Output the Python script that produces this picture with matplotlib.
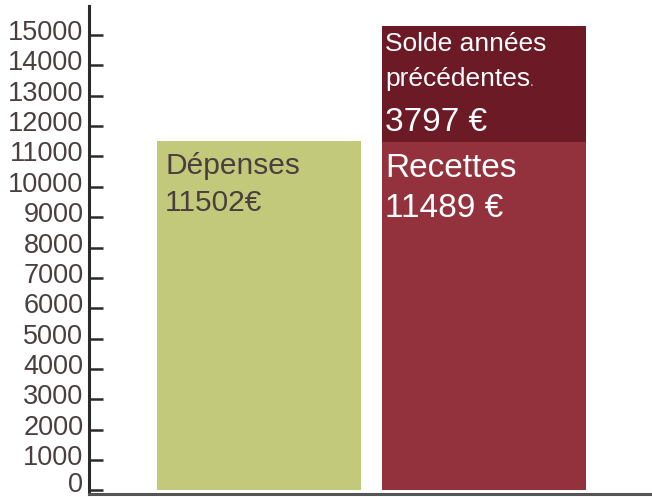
import matplotlib.pyplot as plt
from matplotlib.transforms import ScaledTranslation

plt.rcParams["font.family"] = ["Liberation Sans", "DejaVu Sans"]

# données du budget
depenses = 11502
recettes = 11489
solde = 3797
y_ticks = list(range(0, 16000, 1000))

GREEN = "#c3c97a"
RED = "#93323c"
DARK_RED = "#6b1a26"
TEXT = "#4a3f3f"


def main():
    fig = plt.figure(figsize=(6.52, 4.97), dpi=100)
    ax = fig.add_axes([89 / 652, 3 / 497, 1 - 89 / 652, 488 / 497])

    width = 0.907
    ax.bar(0, depenses, width=width, color=GREEN)
    ax.bar(1, recettes, width=width, color=RED)
    ax.bar(1, solde, width=width, bottom=recettes, color=DARK_RED)

    ax.set_xlim(-0.756, 1.747)
    ax.set_ylim(-119, 15955)
    ax.set_yticks(y_ticks)
    ax.set_yticklabels([str(v) for v in y_ticks])
    ax.set_xticks([])

    ax.tick_params(axis="y", direction="in", length=10, width=1.8,
                   color="#2a2a2a", labelsize=19.5, labelcolor=TEXT, pad=4)
    # labels a bit above their ticks, the 0 more so
    for v, lbl in zip(y_ticks, ax.get_yticklabels()):
        dy = 8 if v == 0 else 5
        lbl.set_transform(lbl.get_transform()
                          + ScaledTranslation(0, dy / 100, fig.dpi_scale_trans))
    ax.spines["top"].set_visible(False)
    ax.spines["right"].set_visible(False)
    ax.spines["left"].set_linewidth(2.2)
    ax.spines["left"].set_color("#2a2a2a")
    ax.spines["bottom"].set_linewidth(2.2)
    ax.spines["bottom"].set_color("#555555")

    left0 = -width / 2
    left1 = 1 - width / 2

    def label(x, y, dx, dy, s, size, color):
        return ax.annotate(s, xy=(x, y), xytext=(dx, dy),
                           textcoords="offset pixels", fontsize=size,
                           color=color, ha="left", va="baseline")

    label(left0, depenses, 8, -33, "Dépenses", 21.5, TEXT)
    label(left0, depenses, 8, -70, "11502€", 21.5, TEXT)

    top = recettes + solde
    label(left1, top, 3, -25, "Solde années", 19, "white")
    t = label(left1, top, 3, -60, "précédentes", 19, "white")
    ax.annotate(".", xy=(1, 0), xycoords=t, xytext=(0, 2),
                textcoords="offset pixels", fontsize=10, color="#d8b9bd",
                ha="left", va="bottom")
    label(left1, top, 3, -105, "3797 €", 24, "white")
    label(left1, recettes, 3, -35, "Recettes", 24, "white")
    label(left1, recettes, 3, -75, "11489 €", 24, "white")

    fig.savefig("out.png", dpi=100)
    plt.close(fig)


if __name__ == "__main__":
    main()
